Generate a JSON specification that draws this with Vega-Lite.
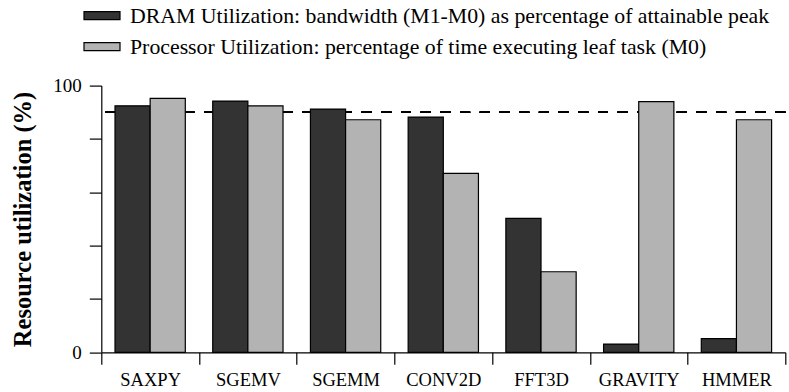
{
  "$schema": "https://vega.github.io/schema/vega-lite/v6.json",
  "width": 684,
  "height": 266.7,
  "autosize": {"type": "none"},
  "padding": {"left": 101.3, "top": 85.6, "right": 3.7, "bottom": 39.7},
  "config": {
    "view": {"stroke": null},
    "font": "Liberation Serif",
    "axis": {
      "labelFont": "Liberation Serif",
      "titleFont": "Liberation Serif",
      "labelColor": "black",
      "titleColor": "black",
      "domainColor": "black",
      "tickColor": "black",
      "domainWidth": 1.2,
      "tickWidth": 1.2,
      "grid": false
    }
  },
  "data": {
    "values": [
      {"benchmark": "SAXPY", "metric": "DRAM Utilization: bandwidth (M1-M0) as percentage of attainable peak", "value": 92.4},
      {"benchmark": "SAXPY", "metric": "Processor Utilization: percentage of time executing leaf task (M0)", "value": 95.2},
      {"benchmark": "SGEMV", "metric": "DRAM Utilization: bandwidth (M1-M0) as percentage of attainable peak", "value": 94.2},
      {"benchmark": "SGEMV", "metric": "Processor Utilization: percentage of time executing leaf task (M0)", "value": 92.4},
      {"benchmark": "SGEMM", "metric": "DRAM Utilization: bandwidth (M1-M0) as percentage of attainable peak", "value": 91.2},
      {"benchmark": "SGEMM", "metric": "Processor Utilization: percentage of time executing leaf task (M0)", "value": 87.2},
      {"benchmark": "CONV2D", "metric": "DRAM Utilization: bandwidth (M1-M0) as percentage of attainable peak", "value": 88.2},
      {"benchmark": "CONV2D", "metric": "Processor Utilization: percentage of time executing leaf task (M0)", "value": 67.1},
      {"benchmark": "FFT3D", "metric": "DRAM Utilization: bandwidth (M1-M0) as percentage of attainable peak", "value": 50.2},
      {"benchmark": "FFT3D", "metric": "Processor Utilization: percentage of time executing leaf task (M0)", "value": 30.2},
      {"benchmark": "GRAVITY", "metric": "DRAM Utilization: bandwidth (M1-M0) as percentage of attainable peak", "value": 3.1},
      {"benchmark": "GRAVITY", "metric": "Processor Utilization: percentage of time executing leaf task (M0)", "value": 94.0},
      {"benchmark": "HMMER", "metric": "DRAM Utilization: bandwidth (M1-M0) as percentage of attainable peak", "value": 5.1},
      {"benchmark": "HMMER", "metric": "Processor Utilization: percentage of time executing leaf task (M0)", "value": 87.2}
    ]
  },
  "layer": [
    {
      "mark": {"type": "rule", "color": "black", "strokeWidth": 1.6, "strokeDash": [10, 9.7]},
      "encoding": {"y": {"datum": 90, "type": "quantitative"}}
    },
    {
      "mark": {"type": "bar", "stroke": "black", "strokeWidth": 1.2},
      "encoding": {
        "x": {
          "field": "benchmark",
          "type": "nominal",
          "sort": null,
          "scale": {"paddingInner": 0, "paddingOuter": 0},
          "axis": {
            "title": null,
            "tickBand": "extent",
            "labelAngle": 0,
            "tickSize": 12,
            "labelPadding": 6,
            "labelFontSize": 18.5
          }
        },
        "xOffset": {
          "field": "metric",
          "type": "nominal",
          "sort": null,
          "scale": {"paddingInner": 0, "paddingOuter": 0.39}
        },
        "y": {
          "field": "value",
          "type": "quantitative",
          "scale": {"domain": [0, 100]},
          "axis": {
            "title": "Resource utilization (%)",
            "titleFontSize": 24.5,
            "titleFontWeight": "bold",
            "titlePadding": 17,
            "values": [0, 10, 20, 30, 40, 50, 60, 70, 80, 90, 100],
            "labelExpr": "datum.value == 0 || datum.value == 100 ? datum.label : ''",
            "tickSize": 12,
            "labelPadding": 8,
            "labelFontSize": 19
          }
        },
        "color": {
          "field": "metric",
          "type": "nominal",
          "sort": null,
          "scale": {"range": ["#333333", "#b3b3b3"]},
          "legend": {
            "title": null,
            "orient": "none",
            "legendX": -18.3,
            "legendY": -89,
            "direction": "vertical",
            "symbolType": "M-1,-0.22H1V0.22H-1Z",
            "symbolSize": 1296,
            "symbolStrokeColor": "black",
            "symbolStrokeWidth": 1.2,
            "labelFont": "Liberation Serif",
            "labelFontSize": 21.8,
            "labelColor": "black",
            "labelOffset": 9,
            "labelLimit": 800,
            "rowPadding": -1
          }
        }
      }
    }
  ]
}
